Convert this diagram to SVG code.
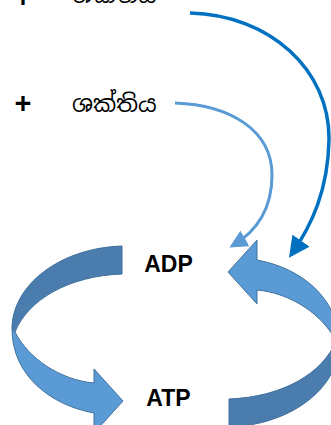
<svg xmlns="http://www.w3.org/2000/svg" width="331" height="425" viewBox="0 0 331 425">
<style>
.lbl{font-family:"Liberation Sans",Arial,sans-serif;font-weight:bold;font-size:23px;fill:#000}
.si{font-family:"Noto Sans Sinhala","Iskoola Pota","Noto Sans",sans-serif;font-size:23px;fill:#000}
.plus{font-family:"Liberation Sans",Arial,sans-serif;font-weight:bold;font-size:29px;fill:#000}
.dark{fill:#4a7dae;stroke:#41719c;stroke-width:1}
.light{fill:#5b9bd5;stroke:#41719c;stroke-width:1}
.c1{fill:none;stroke:#0070c0;stroke-width:3.5}
.c2{fill:none;stroke:#5b9bd5;stroke-width:3}
</style>
<defs>
<marker id="ah1" markerWidth="6" markerHeight="6" refX="5" refY="3" orient="auto" markerUnits="strokeWidth" viewBox="0 0 6 6"><path d="M0,0 L6,3 L0,6 z" fill="#0070c0"/></marker>
<marker id="ah2" markerWidth="6" markerHeight="6" refX="5" refY="3" orient="auto" markerUnits="strokeWidth" viewBox="0 0 6 6"><path d="M0,0 L6,3 L0,6 z" fill="#5b9bd5"/></marker>
<g id="ribbon">
<path class="dark" d="M122,246 C60,248 12,285 12,329 L15,332 C28,300 68,276 122,274 Z"/>
<path class="light" d="M15,332 C28,358 60,380 94,383 L94,369 L123,401 L94,433 L94,413 C50,405 12,375 12,329 Z"/>
</g>
</defs>
<g id="texts">
<text class="plus" x="23" y="7" text-anchor="middle">+</text>
<text class="si" x="72" y="3">ශක්තිය</text>
<text class="plus" x="23" y="113" text-anchor="middle">+</text>
<text class="si" x="72" y="112">ශක්තිය</text>
</g>
<g id="connectors">
<path class="c1" d="M190,13 C270,15 330,70 329,140 C328,190 312,225 291,255" marker-end="url(#ah1)"/>
<path class="c2" d="M175,103 C230,105 272,130 272,175 C272,210 256,232 232,246" marker-end="url(#ah2)"/>
</g>
<g id="cycle-left"><use href="#ribbon"/></g>
<g id="cycle-right"><use href="#ribbon" transform="rotate(180 175.5 336.5)"/></g>
<g id="ADP"><text class="lbl" x="168.5" y="272" text-anchor="middle">ADP</text></g>
<g id="ATP"><text class="lbl" x="168.5" y="406" text-anchor="middle">ATP</text></g>
</svg>
